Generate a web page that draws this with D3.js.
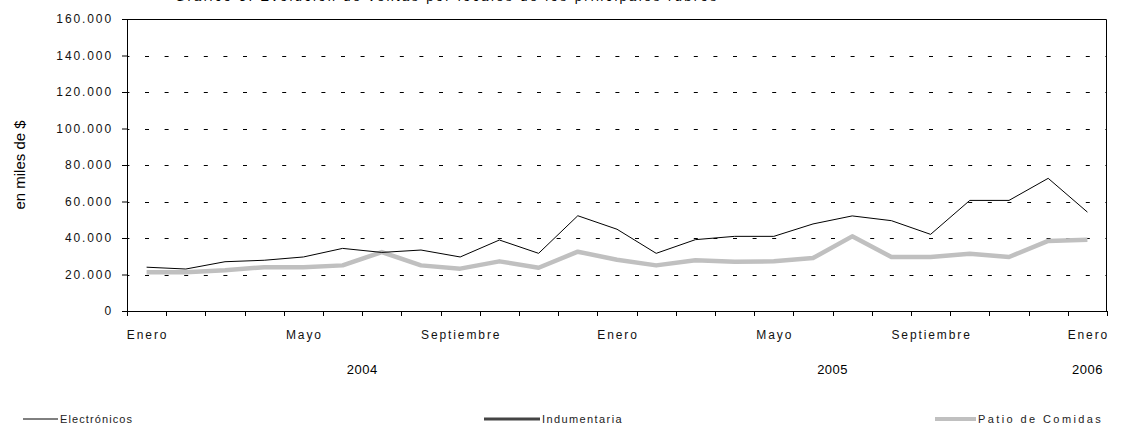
<!DOCTYPE html>
<html>
<head>
<meta charset="utf-8">
<script src="https://cdn.jsdelivr.net/npm/d3@7"></script>
<style>
  body { margin: 0; background: #fff; }
  text { font-family: "Liberation Sans", Arial, sans-serif; fill: #000; }
</style>
</head>
<body>
<div class="chart"></div>
<script>
// months Jan 2004 .. Jan 2006
var months = ["Enero","Febrero","Marzo","Abril","Mayo","Junio","Julio","Agosto","Septiembre","Octubre","Noviembre","Diciembre",
              "Enero","Febrero","Marzo","Abril","Mayo","Junio","Julio","Agosto","Septiembre","Octubre","Noviembre","Diciembre",
              "Enero"];
var years = ["2004","2005","2006"];
var yearSpans = [[0, 12], [12, 24], [24, 25]];
var shownMonths = [0, 4, 8, 12, 16, 20, 24];

// en miles de $
var electronicos = [24000, 23000, 27000, 27800, 29600, 34300, 32100, 33400, 29600, 38900, 31600, 52200,
                    44800, 31600, 39100, 40900, 40900, 47700, 52100, 49500, 42000, 60600, 60600, 72700, 54200];
var indumentaria = []; // no visible line in the chart
var patio = [21200, 21200, 22300, 24000, 24000, 25000, 32300, 25000, 23200, 27200, 23700, 32500,
             28100, 25000, 27800, 27000, 27200, 29000, 40900, 29600, 29600, 31400, 29600, 38400, 39100];
var yTicks = [0, 20000, 40000, 60000, 80000, 100000, 120000, 140000, 160000];

var width = 1123, height = 426;
var margin = {top: 19, right: 16, bottom: 115, left: 127};
var plotW = width - margin.left - margin.right,
    plotH = height - margin.top - margin.bottom;

var locale = d3.formatLocale({decimal: ",", thousands: ".", grouping: [3], currency: ["$", ""]});
var format = locale.format(",d");

var svg = d3.select(".chart").append("svg")
    .attr("width", width)
    .attr("height", height);

// title, cut off at the top like the original
svg.append("text")
    .attr("x", 175)
    .attr("y", 1)
    .style("font-size", "13px")
    .style("letter-spacing", "2.3px")
    .text("Gráfico 5: Evolución de ventas por locales de los principales rubros");

var g = svg.append("g")
    .attr("transform", "translate(" + margin.left + "," + margin.top + ")");

var x = d3.scaleBand()
    .domain(d3.range(months.length))
    .range([0, plotW])
    .padding(0);

var y = d3.scaleLinear()
    .domain([0, 160000])
    .range([plotH, 0]);

// dashed gridlines
g.append("g")
    .selectAll("line")
    .data(yTicks.filter(function(d) { return d > 0 && d < 160000; }))
  .enter().append("line")
    .attr("x1", 0)
    .attr("x2", plotW)
    .attr("y1", function(d) { return Math.round(y(d)) + 0.5; })
    .attr("y2", function(d) { return Math.round(y(d)) + 0.5; })
    .style("stroke", "#000")
    .style("stroke-width", 1)
    .style("stroke-dasharray", "4,15.6")
    .style("stroke-dashoffset", 1.6);

// plot border top/right
g.append("path")
    .attr("d", "M0," + (Math.round(y(160000)) + 0.5) + "H" + (plotW - 0.5) + "V" + plotH)
    .style("fill", "none")
    .style("stroke", "#000")
    .style("stroke-width", 1);

// y axis
var yAxis = d3.axisLeft(y)
    .tickValues(yTicks)
    .tickFormat(format)
    .tickSize(5)
    .tickPadding(9);

g.append("g")
    .attr("class", "y axis")
    .call(yAxis)
    .call(function(s) {
      s.select(".domain").style("stroke", "#000");
      s.selectAll(".tick line").style("stroke", "#000");
      s.selectAll("text")
        .style("font-family", "Liberation Sans, Arial, sans-serif")
        .style("font-size", "12px")
        .style("letter-spacing", "1.9px")
        .style("fill", "#111");
    });

// x axis line and ticks at category boundaries
var boundaries = d3.range(months.length + 1);
g.append("line")
    .attr("x1", 0).attr("x2", plotW)
    .attr("y1", plotH + 0.5).attr("y2", plotH + 0.5)
    .style("stroke", "#000");

g.append("g")
    .selectAll("line")
    .data(boundaries)
  .enter().append("line")
    .attr("x1", function(d) { return Math.round(d < months.length ? x(d) : plotW) + 0.5; })
    .attr("x2", function(d) { return Math.round(d < months.length ? x(d) : plotW) + 0.5; })
    .attr("y1", plotH)
    .attr("y2", plotH + 5)
    .style("stroke", "#000");

g.append("g")
    .selectAll("text")
    .data(shownMonths)
  .enter().append("text")
    .attr("x", function(d) { return x(d) + x.bandwidth() / 2 + 1; })
    .attr("y", plotH + 28)
    .attr("text-anchor", "middle")
    .style("font-size", "12px")
    .style("letter-spacing", "1.9px")
    .style("fill", "#111")
    .text(function(d) { return months[d]; });

g.append("g")
    .selectAll("text")
    .data(years)
  .enter().append("text")
    .attr("x", function(d, i) {
      var s = yearSpans[i];
      return (x(s[0]) + (s[1] < months.length ? x(s[1]) : plotW)) / 2;
    })
    .attr("y", plotH + 63)
    .attr("text-anchor", "middle")
    .style("font-size", "13px")
    .style("letter-spacing", "0.5px")
    .text(function(d) { return d; });

// y axis title
svg.append("text")
    .attr("transform", "translate(25," + (margin.top + plotH / 2) + ") rotate(-90)")
    .attr("text-anchor", "middle")
    .style("font-size", "15px")
    .text("en miles de $");

// lines
var line = d3.line()
    .x(function(d, i) { return x(i) + x.bandwidth() / 2; })
    .y(function(d) { return y(d); });

g.append("path")
    .datum(patio)
    .attr("d", line)
    .style("fill", "none")
    .style("stroke", "#c0c0c0")
    .style("stroke-width", 4.5)
    .style("stroke-linejoin", "round");

g.append("path")
    .datum(indumentaria)
    .attr("d", indumentaria.length ? line : null)
    .style("fill", "none")
    .style("stroke", "#444")
    .style("stroke-width", 3);

g.append("path")
    .datum(electronicos)
    .attr("d", line)
    .style("fill", "none")
    .style("stroke", "#000")
    .style("stroke-width", 1);

// legend
var legendItems = [
  {name: "Electrónicos", x: 23, len: 35, color: "#000", w: 1, spacing: 1.1},
  {name: "Indumentaria", x: 484, len: 56, color: "#444", w: 3, spacing: 1.4},
  {name: "Patio de Comidas", x: 935, len: 41, color: "#c0c0c0", w: 4, spacing: 2.4}
];

var legend = svg.append("g")
    .selectAll("g")
    .data(legendItems)
  .enter().append("g")
    .attr("transform", function(d) { return "translate(" + d.x + ",419)"; });

legend.append("line")
    .attr("x1", 0).attr("x2", function(d) { return d.len; })
    .attr("y1", 0).attr("y2", 0)
    .style("stroke", function(d) { return d.color; })
    .style("stroke-width", function(d) { return d.w; });

legend.append("text")
    .attr("x", function(d) { return d.len + 2; })
    .attr("y", 4)
    .style("font-size", "11px")
    .style("letter-spacing", function(d) { return d.spacing + "px"; })
    .style("fill", "#222")
    .text(function(d) { return d.name; });
</script>
</body>
</html>
